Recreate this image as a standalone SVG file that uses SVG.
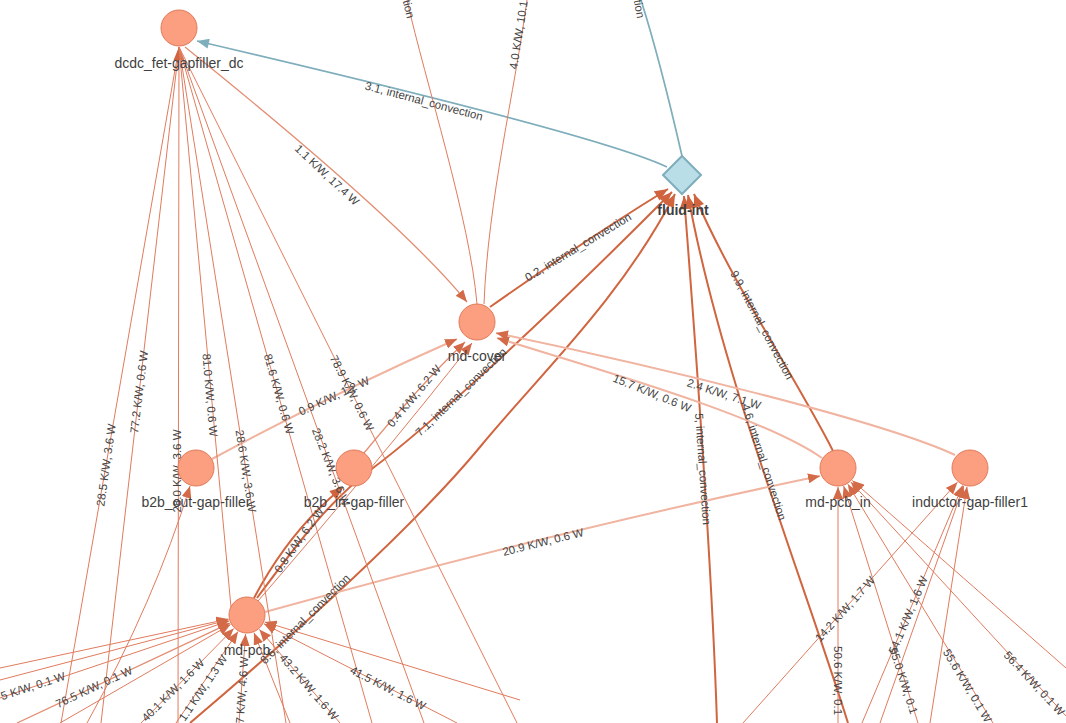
<svg xmlns="http://www.w3.org/2000/svg" width="1066" height="723" viewBox="0 0 1066 723">
<style>
.e{fill:none;stroke:#e07b5d;stroke-width:1}
.em{fill:none;stroke:#e38d72;stroke-width:1.3}
.et{fill:none;stroke:#d0653f;stroke-width:2}
.el{fill:none;stroke:#f0b4a0;stroke-width:2}
.eb{fill:none;stroke:#7eadbb;stroke-width:1.7}
.t{font-family:"Liberation Sans",Arial,sans-serif;font-size:11.5px;fill:#444;text-anchor:middle}
.ts{text-anchor:start}
.tend{text-anchor:end}
.n{fill:#fc9f80;stroke:#e07a5a;stroke-width:1}
.nl{font-family:"Liberation Sans",Arial,sans-serif;font-size:14px;fill:#3f3f3f;text-anchor:middle}
</style>
<defs>
<marker id="a" viewBox="0 0 12 10" refX="12" refY="5" markerWidth="12" markerHeight="10" markerUnits="userSpaceOnUse" orient="auto"><path d="M0,0 L12,5 L0,10 Z" fill="#d36a48"/></marker>
<marker id="ab" viewBox="0 0 12 10" refX="12" refY="5" markerWidth="13" markerHeight="10" markerUnits="userSpaceOnUse" orient="auto"><path d="M0,0 L12,5 L0,10 Z" fill="#7eadbb"/></marker>
<marker id="ad" viewBox="0 0 12 10" refX="12" refY="5" markerWidth="14" markerHeight="11" markerUnits="userSpaceOnUse" orient="auto"><path d="M0,0 L12,5 L0,10 Z" fill="#cf643f"/></marker>
</defs>
<g id="connectors">
<path class="eb" d="M667,167 Q600,135 197,41" marker-end="url(#ab)"/>
<path class="eb" d="M641,0 Q660,60 682,156"/>
<path class="e" d="M407,0 C425,80 470,220 477,304"/>
<path class="e" d="M527,0 C515,90 488,200 484,304"/>
<path class="em" d="M185,47 Q400,220 467,302" marker-end="url(#a)"/>
<path class="et" d="M490,307 Q585,240 668,189" marker-end="url(#ad)"/>
<path class="el" d="M212,459 Q330,395 457,339" marker-end="url(#a)"/>
<path class="em" d="M364,453 Q420,385 465,342" marker-end="url(#a)"/>
<path class="e" d="M258,601 Q380,460 472,343" marker-end="url(#a)"/>
<path class="et" d="M254,598 Q290,530 343,487" marker-end="url(#ad)"/>
<path class="et" d="M257,598 C300,540 330,500 373,468 C416,436 520,345 672,192" marker-end="url(#ad)"/>
<path class="et" d="M190,723 C300,630 420,520 480,447 C540,374 620,300 675,194" marker-end="url(#ad)"/>
<path class="et" d="M717,723 C713,600 700,400 684,196" marker-end="url(#ad)"/>
<path class="et" d="M848,723 C800,570 720,370 688,195" marker-end="url(#ad)"/>
<path class="et" d="M833,451 C800,385 730,280 694,194" marker-end="url(#ad)"/>
<path class="el" d="M822,458 C760,415 600,370 497,338" marker-end="url(#a)"/>
<path class="el" d="M955,455 C880,420 650,365 496,333" marker-end="url(#a)"/>
<path class="el" d="M265,612 Q560,530 820,476" marker-end="url(#a)"/>
<path class="e" d="M61,723 L179,47"/>
<path class="e" d="M101,723 L179,47"/>
<path class="e" d="M178,723 L179,47" marker-end="url(#ad)"/>
<path class="e" d="M231,607 L179,47"/>
<path class="e" d="M286,723 L179,47"/>
<path class="e" d="M372,723 L179,47"/>
<path class="e" d="M424,723 L179,47"/>
<path class="e" d="M517,723 L179,47"/>
<path class="e" d="M87,723 Q155,600 190,486" marker-end="url(#a)"/>
<path class="e" d="M0,668 L228.4,619" marker-end="url(#a)"/>
<path class="e" d="M0,680 L228.6,619.8" marker-end="url(#a)"/>
<path class="e" d="M0,698 L229,621" marker-end="url(#a)"/>
<path class="em" d="M17,723 L229.8,623.1" marker-end="url(#a)"/>
<path class="e" d="M60,723 L230.5,624.5" marker-end="url(#a)"/>
<path class="e" d="M141,723 L233.7,628.6" marker-end="url(#a)"/>
<path class="e" d="M176,723 L238,631.6" marker-end="url(#a)"/>
<path class="e" d="M239,723 L245.6,634" marker-end="url(#a)"/>
<path class="e" d="M290,723 L254,632.7" marker-end="url(#a)"/>
<path class="e" d="M340,723 L259.4,629.4" marker-end="url(#a)"/>
<path class="e" d="M457,723 L263.9,623.7" marker-end="url(#a)"/>
<path class="e" d="M520,700 L264.7,622" marker-end="url(#a)"/>
<path class="e" d="M838,723 L838,487" marker-end="url(#a)"/>
<path class="e" d="M918,723 L843.7,486.1" marker-end="url(#a)"/>
<path class="e" d="M993,723 L847.9,484.2" marker-end="url(#a)"/>
<path class="e" d="M1066,716 L850.9,482" marker-end="url(#a)"/>
<path class="e" d="M1066,668 L852.3,480.5" marker-end="url(#a)"/>
<path class="e" d="M743,723 L957.4,482.2" marker-end="url(#a)"/>
<path class="e" d="M862,723 L962.6,485.5" marker-end="url(#a)"/>
<path class="e" d="M880,723 L963.7,485.9" marker-end="url(#a)"/>
<path class="e" d="M930,723 L967,486.8" marker-end="url(#a)"/>
</g>
<g id="edge-labels">
<text class="t" transform="translate(424,101) rotate(15)" dy="4">3.1, internal_convection</text>
<text class="t tend" transform="translate(641,18) rotate(80)" dy="4">tion</text>
<text class="t tend" transform="translate(411,18) rotate(76)" dy="4">tion</text>
<text class="t ts" transform="translate(513,69) rotate(-81)" dy="4">4.0 K/W, 10.1</text>
<text class="t" transform="translate(327,175) rotate(43)" dy="4">1.1 K/W, 17.4 W</text>
<text class="t" transform="translate(578,247) rotate(-31)" dy="4">0.2, internal_convection</text>
<text class="t" transform="translate(334,396) rotate(-25)" dy="4">0.9 K/W, 1.2 W</text>
<text class="t" transform="translate(414,396) rotate(-50)" dy="4">0.4 K/W, 6.2 W</text>
<text class="t" transform="translate(299,540) rotate(-55)" dy="4">0.8 K/W, 6.2 W</text>
<text class="t" transform="translate(461,392) rotate(-44)" dy="4">7.1, internal_convection</text>
<text class="t" transform="translate(305,619) rotate(-45)" dy="4">8.6, internal_convection</text>
<text class="t" transform="translate(703,469) rotate(86)" dy="4">5, internal_convection</text>
<text class="t" transform="translate(764,462) rotate(72)" dy="4">4.6, internal_convection</text>
<text class="t" transform="translate(762,325) rotate(62)" dy="4">9.9, internal_convection</text>
<text class="t" transform="translate(652,393) rotate(22)" dy="4">15.7 K/W, 0.6 W</text>
<text class="t" transform="translate(724,394) rotate(18)" dy="4">2.4 K/W, 7.1 W</text>
<text class="t" transform="translate(543,542) rotate(-14)" dy="4">20.9 K/W, 0.6 W</text>
<text class="t" transform="translate(106,465) rotate(-82)" dy="4">28.5 K/W, 3.6 W</text>
<text class="t" transform="translate(139,392) rotate(-83)" dy="4">77.2 K/W, 0.6 W</text>
<text class="t" transform="translate(177,471) rotate(-90)" dy="4">28.0 K/W, 3.6 W</text>
<text class="t" transform="translate(210,395) rotate(85)" dy="4">81.0 K/W, 0.6 W</text>
<text class="t" transform="translate(246,471) rotate(81)" dy="4">28.6 K/W, 3.6 W</text>
<text class="t" transform="translate(279,394) rotate(74)" dy="4">81.6 K/W, 0.6 W</text>
<text class="t" transform="translate(331,467) rotate(68)" dy="4">28.2 K/W, 3.6 W</text>
<text class="t" transform="translate(352,393) rotate(63)" dy="4">78.9 K/W, 0.6 W</text>
<text class="t" transform="translate(33,686) rotate(-18)" dy="4">5 K/W, 0.1 W</text>
<text class="t" transform="translate(94,687) rotate(-25)" dy="4">76.5 K/W, 0.1 W</text>
<text class="t" transform="translate(173,690) rotate(-45)" dy="4">40.1 K/W, 1.6 W</text>
<text class="t" transform="translate(203,688) rotate(-56)" dy="4">1.1 K/W, 1.3 W</text>
<text class="t" transform="translate(242,690) rotate(-86)" dy="4">7 K/W, 4.6 W</text>
<text class="t" transform="translate(309,687) rotate(49)" dy="4">43.2 K/W, 1.6 W</text>
<text class="t" transform="translate(388,688) rotate(27)" dy="4">41.5 K/W, 1.6 W</text>
<text class="t ts" transform="translate(838,646) rotate(90)" dy="4">50.6 K/W, 0.1</text>
<text class="t ts" transform="translate(893,648) rotate(72)" dy="4">55.0 K/W, 0.1</text>
<text class="t ts" transform="translate(946,650) rotate(59)" dy="4">55.6 K/W, 0.1 W</text>
<text class="t ts" transform="translate(1006,653) rotate(47)" dy="4">56.4 K/W, 0.1 W</text>
<text class="t" transform="translate(845,609) rotate(-48)" dy="4">14.2 K/W, 1.7 W</text>
<text class="t" transform="translate(908,615) rotate(-67)" dy="4">54.1 K/W, 1.6 W</text>
</g>
<g id="node-dcdc"><circle class="n" cx="179" cy="28" r="18"/><text class="nl" x="179" y="68">dcdc_fet-gapfiller_dc</text></g>
<g id="node-fluid-int"><polygon points="682,156 701,175 682,194 663,175" fill="#b9dee7" stroke="#7eadbb" stroke-width="2"/><text class="nl" x="683" y="215" font-weight="bold">fluid-int</text></g>
<g id="node-md-cover"><circle class="n" cx="477" cy="322" r="18"/><text class="nl" x="477" y="361">md-cover</text></g>
<g id="node-b2b-out"><circle class="n" cx="196" cy="468" r="18"/><text class="nl" x="196" y="507">b2b_out-gap-filler</text></g>
<g id="node-b2b-in"><circle class="n" cx="354" cy="468" r="18"/><text class="nl" x="354" y="507">b2b_in-gap-filler</text></g>
<g id="node-md-pcb-in"><circle class="n" cx="838" cy="468" r="18"/><text class="nl" x="838" y="507">md-pcb_in</text></g>
<g id="node-inductor"><circle class="n" cx="970" cy="468" r="18"/><text class="nl" x="970" y="507">inductor-gap-filler1</text></g>
<g id="node-md-pcb"><circle class="n" cx="247" cy="615" r="18"/><text class="nl" x="247" y="655">md-pcb</text></g>
</svg>
